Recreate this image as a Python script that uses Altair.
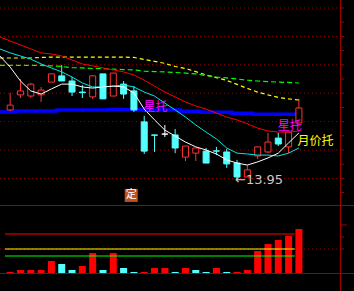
import altair as alt
import pandas as pd

# ---------------- data ----------------
idx = list(range(29))
opens  = [16.41,16.94,16.90,16.94,17.39,17.61,17.43,17.04,16.87,17.68,16.90,17.32,17.08,15.99,15.53,
          15.56,15.53,14.75,14.89,14.96,14.97,14.93,14.54,14.05,14.79,14.93,15.42,15.11,15.95]
highs  = [17.01,17.50,17.36,17.22,17.68,17.99,17.57,17.29,17.64,17.68,17.71,17.43,17.25,16.20,15.53,
          15.88,15.74,15.14,15.07,15.07,15.11,15.04,14.65,14.47,15.11,15.60,15.60,15.63,16.80]
lows   = [16.37,16.83,16.83,16.69,17.39,17.43,16.90,16.83,16.80,16.80,16.90,16.80,16.34,14.86,14.93,
          15.46,14.89,14.61,14.61,14.54,14.82,14.37,13.95,14.05,14.68,14.89,15.14,14.89,15.95]
closes = [16.58,17.08,17.32,17.11,17.68,17.43,17.04,17.02,17.61,16.80,17.71,16.97,16.41,14.96,15.52,
          15.56,15.07,15.14,15.07,14.54,14.96,14.51,14.05,14.30,15.11,15.28,15.21,15.63,16.48]

ma_idx = list(range(-1, 29))
ma5 = [18.31,17.92,17.43,17.08,16.97,17.15,17.32,17.32,17.22,17.18,17.22,17.25,17.22,17.01,16.44,
       16.06,15.70,15.49,15.28,15.11,15.00,14.86,14.65,14.54,14.47,14.58,14.72,14.89,15.25,15.60]
ma10 = [18.56,18.42,18.31,18.20,18.03,17.89,17.75,17.57,17.36,17.22,17.22,17.25,17.29,17.22,17.04,
        16.90,16.65,16.41,16.16,15.88,15.63,15.39,15.07,14.89,14.86,14.82,14.82,14.79,14.89,15.07]
ma20 = [18.98,18.84,18.70,18.56,18.42,18.38,18.31,18.17,18.03,17.96,17.89,17.82,17.75,17.64,17.46,
        17.25,17.04,16.87,16.69,16.55,16.44,16.30,16.16,16.06,15.92,15.77,15.67,15.63,15.63,15.67]
ma60 = [18.24,18.24,18.24,18.24,18.26,18.27,18.27,18.27,18.27,18.27,18.27,18.27,18.27,18.26,18.19,
        18.12,18.05,17.94,17.87,17.76,17.64,17.55,17.45,17.31,17.17,17.04,16.94,16.85,16.80,16.76]
ma120 = [17.98,17.98,17.98,17.98,17.98,17.96,17.94,17.90,17.89,17.87,17.87,17.85,17.83,17.82,17.78,
         17.76,17.75,17.73,17.71,17.68,17.62,17.57,17.54,17.50,17.46,17.43,17.41,17.39,17.38,17.36]
cost = [16.34,16.34,16.37,16.37,16.37,16.37,16.41,16.41,16.41,16.41,16.41,16.43,16.43,16.43,16.41,
        16.41,16.41,16.41,16.36,16.36,16.33,16.33,16.33,16.29,16.29,16.26,16.26,16.26,16.26,16.26]

vol = [1,3,3,3,12,9,3,7,20,3,20,5,1,1,5,5,1,5,3,1,5,1,1,3,22,29,33,37,44]
vol_dir = ["R","R","R","R","R","C","C","R","R","C","R","C","C","R","R","R","C","R","C","C",
           "R","C","R","R","R","R","R","R","R"]
vol_levels = [39, 24, 17]
vol_level_names = ["L1", "L2", "L3"]

price_grid = [14, 15, 16, 17, 18, 19, 20]
price_ticks = [13.5, 14, 14.5, 15, 15.5, 16, 16.5, 17, 17.5, 18, 18.5, 19, 19.5, 20]

label_text = ["星托", "星托", "月价托"]
label_idx = [14.1, 27.1, 29.6]
label_price = [16.51, 15.83, 15.33]
label_kind = ["star", "star", "month"]

low_idx = 22
low_price = 13.95
mark_idx = 11.74
mark_price = 13.40

# ---------------- styles ----------------
UP = "#ff3232"
DOWN = "#54ffff"
FRAME = "#a00000"

xs = alt.Scale(domain=[-0.5, 31.5], range=[0, 340], nice=False, zero=False)
ps = alt.Scale(domain=[13.063, 20.282], range=[205, 0], nice=False, zero=False)
vs = alt.Scale(domain=[0, 68], range=[273, 205], nice=False, zero=False)

def X(f):
    return alt.X(f, type="quantitative", scale=xs, axis=None)

def PY(f):
    return alt.Y(f, type="quantitative", scale=ps, axis=None)

def VY(f):
    return alt.Y(f, type="quantitative", scale=vs, axis=None)

kinds = ["up" if c > o else ("down" if c < o else "flat") for o, c in zip(opens, closes)]
cdf = pd.DataFrame({"idx": idx, "open": opens, "high": highs, "low": lows,
                    "close": closes, "kind": kinds})
edge_scale = alt.Scale(domain=["up", "down", "flat"], range=[UP, DOWN, "#ffffff"])
fill_scale = alt.Scale(domain=["up", "down", "flat"], range=["#000000", DOWN, "#ffffff"])

mdf = pd.DataFrame({"idx": ma_idx, "ma5": ma5, "ma10": ma10, "ma20": ma20,
                    "ma60": ma60, "ma120": ma120, "cost": cost})
vdf = pd.DataFrame({"idx": idx, "vol": vol, "dir": vol_dir})
ldf = pd.DataFrame({"lvl": vol_levels, "name": vol_level_names, "x0": -0.5, "x1": 27.6})
gdf = pd.DataFrame({"p": price_grid})
tdf = pd.DataFrame({"p": price_ticks})
txt = pd.DataFrame({"t": label_text, "idx": label_idx, "p": label_price, "k": label_kind})
lowdf = pd.DataFrame({"idx": [low_idx], "p": [low_price], "t": ["←" + f"{low_price:.2f}"]})
markdf = pd.DataFrame({"idx": [mark_idx], "p": [mark_price], "t": ["定"]})
vgrid = pd.DataFrame({"v": [24]})
vticks_long = pd.DataFrame({"v": [48]})
vticks_short = pd.DataFrame({"v": [36, 24]})

# ---------------- layers ----------------
grid = alt.Chart(gdf).mark_rule(color=FRAME, strokeDash=[1, 3], strokeWidth=1).encode(
    x=alt.value(0), x2=alt.value(340), y=PY("p"))
vgrid_l = alt.Chart(vgrid).mark_rule(color=FRAME, strokeDash=[1, 3], strokeWidth=1).encode(
    x=alt.value(0), x2=alt.value(340), y=VY("v"))

def line(field, color, width=1.0, dash=None, interp="linear"):
    kw = dict(color=color, strokeWidth=width, clip=True, interpolate=interp)
    if dash:
        kw["strokeDash"] = dash
    return alt.Chart(mdf).mark_line(**kw).encode(x=X("idx"), y=PY(field))

l_cost = line("cost", "#0000ff", 3.5, interp="step")
l60 = line("ma60", "#ffff00", 1.2, [4, 3])
l120 = line("ma120", "#00ff00", 1.2, [5, 3])
l20 = line("ma20", "#ff0000", 1.0)
l10 = line("ma10", "#00e8e8", 1.0)
l5 = line("ma5", "#ffffff", 1.0)

wick = alt.Chart(cdf).mark_rule(strokeWidth=1).encode(
    x=X("idx"), y=PY("low"), y2="high",
    color=alt.Color("kind:N", scale=edge_scale, legend=None))
body = alt.Chart(cdf).mark_bar(size=6, strokeWidth=1).encode(
    x=X("idx"), y=PY("open"), y2="close",
    fill=alt.Fill("kind:N", scale=fill_scale, legend=None),
    stroke=alt.Stroke("kind:N", scale=edge_scale, legend=None))

vbars = alt.Chart(vdf).mark_bar(size=7).encode(
    x=X("idx"), y=VY("vol"), y2=alt.datum(0),
    color=alt.Color("dir:N", scale=alt.Scale(domain=["R", "C"], range=["#ff0000", DOWN]), legend=None))
vlines = alt.Chart(ldf).mark_rule(strokeWidth=1.2).encode(
    x=X("x0"), x2="x1", y=VY("lvl"),
    color=alt.Color("name:N", scale=alt.Scale(domain=vol_level_names,
                                              range=["#ff0000", "#ffff00", "#00ff00"]), legend=None))

labels = alt.Chart(txt).mark_text(font="Noto Sans CJK SC", fontSize=12, align="center",
                                  baseline="middle").encode(
    x=X("idx"), y=PY("p"), text="t:N",
    color=alt.Color("k:N", scale=alt.Scale(domain=["star", "month"], range=["#ff00ff", "#ffff00"]),
                    legend=None))
lowlab = alt.Chart(lowdf).mark_text(font="DejaVu Sans", fontSize=13, align="left",
                                    baseline="middle", color="#c8c8c8", dx=-2).encode(
    x=X("idx"), y=PY("p"), text="t:N")
mk_box = alt.Chart(markdf).mark_point(shape="square", size=170, filled=True, opacity=1,
                                      color="#c0501c").encode(x=X("idx"), y=PY("p"))
mk_txt = alt.Chart(markdf).mark_text(font="Noto Sans CJK SC", fontSize=11, color="#ffffff",
                                     baseline="middle", align="center").encode(
    x=X("idx"), y=PY("p"), text="t:N")

pticks = alt.Chart(tdf).mark_rule(color=FRAME, strokeWidth=1).encode(
    x=alt.value(340.5), x2=alt.value(344), y=PY("p"))
vtl = alt.Chart(vticks_long).mark_rule(color=FRAME, strokeWidth=1).encode(
    x=alt.value(340.5), x2=alt.value(347), y=VY("v"))
vts = alt.Chart(vticks_short).mark_rule(color=FRAME, strokeWidth=1).encode(
    x=alt.value(340.5), x2=alt.value(344), y=VY("v"))

frame_v = alt.Chart(gdf.head(1)).mark_rule(color=FRAME, strokeWidth=1).encode(
    x=alt.value(340.5), y=alt.value(0), y2=alt.value(291))
frame_h1 = alt.Chart(gdf.head(1)).mark_rule(color=FRAME, strokeWidth=1).encode(
    x=alt.value(0), x2=alt.value(354), y=alt.value(205.5))
frame_h2 = alt.Chart(gdf.head(1)).mark_rule(color=FRAME, strokeWidth=1).encode(
    x=alt.value(0), x2=alt.value(354), y=alt.value(273.5))

chart = alt.layer(
    grid, vgrid_l, l_cost, wick, body, l60, l120, l20, l10, l5,
    vbars, vlines, pticks, vtl, vts, frame_v, frame_h1, frame_h2,
    mk_box, mk_txt, labels, lowlab
).resolve_scale(
    y="independent", color="independent", fill="independent", stroke="independent"
).properties(
    width=354, height=291, padding=0, background="#000000",
    autosize=alt.AutoSizeParams(type="none")
).configure_view(stroke=None)

chart.save("out.html", embed_options={"renderer": "svg", "actions": False})
